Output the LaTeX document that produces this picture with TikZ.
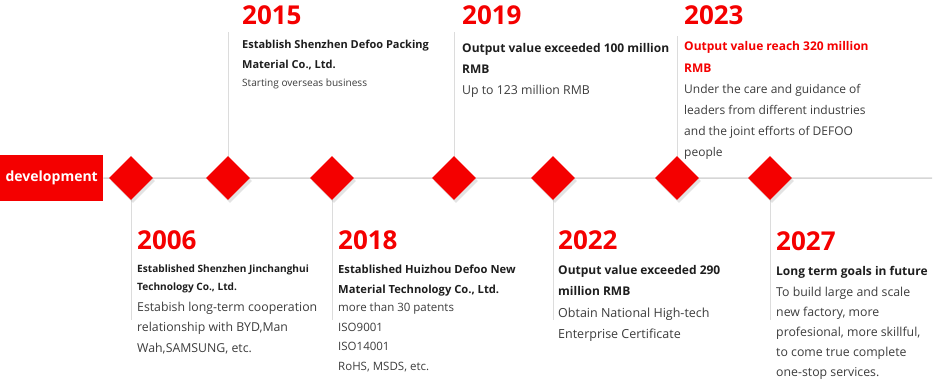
\documentclass[tikz,border=0pt]{standalone}
\usepackage{fontspec}
\setmainfont{Open Sans}
\usepackage{xcolor}
\usetikzlibrary{shapes.geometric,shadows,positioning,backgrounds}

\definecolor{defred}{HTML}{F40000}
\definecolor{titlegray}{HTML}{1E1E1E}
\definecolor{bodygray}{HTML}{3C3C3C}
\definecolor{axisgray}{HTML}{D6D6D6}
\definecolor{stemgray}{HTML}{DCDCDC}

\begin{document}
\begin{tikzpicture}[x=1pt, y=-1pt,
  milestone/.style={diamond, fill=defred, inner sep=0pt, minimum size=44pt,
    drop shadow={shadow xshift=2pt, shadow yshift=-3pt, opacity=0.22}},
  year/.style={anchor=base west, inner sep=0pt, text=defred, font=\fontsize{26}{26}\selectfont\bfseries},
  headline/.style={anchor=base west, inner sep=0pt, align=left, text=titlegray},
  detail/.style={anchor=base west, inner sep=0pt, align=left, text=bodygray},
  axis/.style={draw=axisgray, line width=1.5pt},
  stem/.style={draw=stemgray, line width=1pt}]

\useasboundingbox (0,0) rectangle (936,391);

\node [fill=defred, text=white, minimum width=103pt, minimum height=46pt, inner sep=0pt,
  font=\fontsize{14}{14}\selectfont\bfseries, anchor=north west] (dev) at (0,155) {development\hspace{5pt}};

\coordinate (axisend) at (932,178);

\coordinate (top2015) at (228,32);
\coordinate (top2019) at (454,32);
\coordinate (top2023) at (677,36);
\coordinate (foot2006) at (131,320);
\coordinate (foot2018) at (332,320);
\coordinate (foot2022) at (553,320);
\coordinate (foot2027) at (770,320);

\node [milestone] (d2006) at (131,178) {};
\node [milestone, right of=d2006, node distance=97pt] (d2015) {};
\node [milestone, right of=d2015, node distance=104pt] (d2018) {};
\node [milestone, right of=d2018, node distance=122pt] (d2019) {};
\node [milestone, right of=d2019, node distance=99pt] (d2022) {};
\node [milestone, right of=d2022, node distance=124pt] (d2023) {};
\node [milestone, right of=d2023, node distance=93pt] (d2027) {};

\begin{scope}[on background layer]
\draw [axis] (dev.east) -- (axisend);
\draw [stem] (top2015) -- (d2015.center);
\draw [stem] (top2019) -- (d2019.center);
\draw [stem] (top2023) -- (d2023.center);
\draw [stem] (d2006.center) -- (foot2006);
\draw [stem] (d2018.center) -- (foot2018);
\draw [stem] (d2022.center) -- (foot2022);
\draw [stem] (d2027.center) -- (foot2027);
\end{scope}

\node [year] (y2006) at (137,249) {2006};
\node [headline, font=\fontsize{10.1}{18}\selectfont\bfseries] (h2006) at (137,290) {Established Shenzhen Jinchanghui\\Technology Co., Ltd.};
\node [detail, font=\fontsize{12.3}{20.5}\selectfont] (t2006) at (137,352) {Estabish long-term cooperation\\relationship with BYD,Man\\Wah,SAMSUNG, etc.};

\node [year] (y2015) at (242,24) {2015};
\node [headline, font=\fontsize{11}{20}\selectfont\bfseries] (h2015) at (242,68) {Establish Shenzhen Defoo Packing\\Material Co., Ltd.};
\node [detail, font=\fontsize{10.1}{20}\selectfont] (t2015) at (242,86) {Starting overseas business};

\node [year] (y2018) at (338,249) {2018};
\node [headline, font=\fontsize{11.2}{20}\selectfont\bfseries] (h2018) at (338,293) {Established Huizhou Defoo New\\Material Technology Co., Ltd.};
\node [detail, font=\fontsize{11.5}{19.4}\selectfont] (t2018) at (338,370) {more than 30 patents\\ISO9001\\ISO14001\\RoHS, MSDS, etc.};

\node [year] (y2019) at (462,24) {2019};
\node [headline, font=\fontsize{12}{21}\selectfont\bfseries] (h2019) at (462,73) {Output value exceeded 100 million\\RMB};
\node [detail, font=\fontsize{12.3}{21}\selectfont] (t2019) at (462,94) {Up to 123 million RMB};

\node [year] (y2022) at (558,249) {2022};
\node [headline, font=\fontsize{12}{21}\selectfont\bfseries] (h2022) at (558,295) {Output value exceeded 290\\million RMB};
\node [detail, font=\fontsize{12.5}{21}\selectfont] (t2022) at (558,338) {Obtain National High-tech\\Enterprise Certificate};

\node [year] (y2023) at (684,24) {2023};
\node [headline, text=defred, font=\fontsize{12}{22}\selectfont\bfseries] (h2023) at (684,72) {Output value reach 320 million\\RMB};
\node [detail, font=\fontsize{12}{21}\selectfont] (t2023) at (684,156) {Under the care and guidance of\\leaders from different industries\\and the joint efforts of DEFOO\\people};

\node [year] (y2027) at (776,250) {2027};
\node [headline, font=\fontsize{12}{21}\selectfont\bfseries] (h2027) at (776,275) {Long term goals in future};
\node [detail, font=\fontsize{12.3}{20}\selectfont] (t2027) at (776,376) {To build large and scale\\new factory, more\\profesional, more skillful,\\to come true complete\\one-stop services.};

\end{tikzpicture}
\end{document}
